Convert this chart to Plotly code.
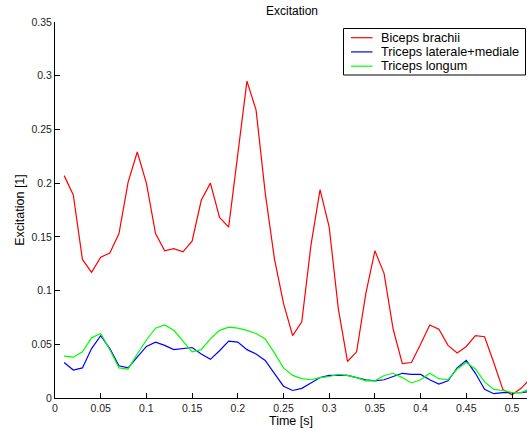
import plotly.graph_objects as go

time_s = [round(0.01 * i, 2) for i in range(1, 53)]

biceps_brachii = [
    0.207, 0.189, 0.129, 0.117, 0.131, 0.135, 0.153, 0.201, 0.229, 0.200,
    0.153, 0.137, 0.139, 0.136, 0.146, 0.184, 0.200, 0.168, 0.159, 0.228,
    0.295, 0.268, 0.191, 0.130, 0.088, 0.058, 0.071, 0.142, 0.194, 0.159,
    0.083, 0.034, 0.043, 0.097, 0.137, 0.116, 0.064, 0.032, 0.033, 0.050,
    0.068, 0.064, 0.049, 0.042, 0.048, 0.058, 0.057, 0.033, 0.008, 0.003,
    0.009, 0.018,
]

triceps_lat_med = [
    0.033, 0.026, 0.028, 0.046, 0.058, 0.046, 0.030, 0.028, 0.038, 0.048,
    0.052, 0.049, 0.045, 0.046, 0.047, 0.041, 0.036, 0.044, 0.053, 0.052,
    0.045, 0.041, 0.035, 0.023, 0.011, 0.007, 0.009, 0.014, 0.019, 0.021,
    0.021, 0.021, 0.019, 0.017, 0.016, 0.017, 0.020, 0.023, 0.022, 0.022,
    0.017, 0.013, 0.016, 0.028, 0.035, 0.023, 0.008, 0.004, 0.005, 0.005,
    0.005, 0.006,
]

triceps_longum = [
    0.039, 0.038, 0.043, 0.056, 0.060, 0.045, 0.028, 0.027, 0.041, 0.054,
    0.065, 0.068, 0.063, 0.053, 0.043, 0.045, 0.055, 0.063, 0.066, 0.065,
    0.063, 0.060, 0.055, 0.042, 0.028, 0.021, 0.018, 0.017, 0.019, 0.020,
    0.022, 0.021, 0.019, 0.016, 0.016, 0.021, 0.023, 0.019, 0.014, 0.017,
    0.023, 0.018, 0.017, 0.027, 0.033, 0.027, 0.015, 0.008, 0.007, 0.005,
    0.005, 0.009,
]

series_names = ["Biceps brachii", "Triceps laterale+mediale", "Triceps longum"]
series_colors = ["#ff0000", "#0000ff", "#00ff00"]

x_tick_vals = [0, 0.05, 0.1, 0.15, 0.2, 0.25, 0.3, 0.35, 0.4, 0.45, 0.5]
x_tick_text = ["0", "0.05", "0.1", "0.15", "0.2", "0.25", "0.3", "0.35", "0.4", "0.45", "0.5"]
y_tick_vals = [0, 0.05, 0.1, 0.15, 0.2, 0.25, 0.3, 0.35]
y_tick_text = ["0", "0.05", "0.1", "0.15", "0.2", "0.25", "0.3", "0.35"]

W, H = 527, 430
L, R, T, B = 55, 0, 22, 32
FONT = "Liberation Sans, Arial, Helvetica, sans-serif"

fig = go.Figure()
for name, ys, col in zip(series_names, [biceps_brachii, triceps_lat_med, triceps_longum], series_colors):
    fig.add_trace(go.Scatter(x=time_s, y=ys, mode="lines", name=name,
                             line=dict(color=col, width=1.2), showlegend=False))

# Manual MATLAB-style legend (pixel positions converted to paper coords)
pw, ph = W - L - R, H - T - B
def px(xp):
    return (xp - L) / pw
def py(yp):
    return (H - B - yp) / ph

shapes = [dict(type="rect", xref="paper", yref="paper",
               x0=px(343.5), x1=px(525.5), y0=py(75), y1=py(28.5),
               line=dict(color="black", width=1), fillcolor="white", layer="above")]
annotations = []
rows = [37.7, 51.9, 66.2]
for name, col, yr in zip(series_names, series_colors, rows):
    shapes.append(dict(type="line", xref="paper", yref="paper",
                       x0=px(351), x1=px(372.5), y0=py(yr), y1=py(yr),
                       line=dict(color=col, width=1.2), layer="above"))
    annotations.append(dict(text=name, xref="paper", yref="paper",
                            x=px(378.5), y=py(yr), xanchor="left", yanchor="middle",
                            showarrow=False, font=dict(family=FONT, size=12.7, color="black")))

fig.update_layout(
    width=W, height=H,
    margin=dict(l=L, r=R, t=T, b=B, pad=0, autoexpand=False),
    paper_bgcolor="white", plot_bgcolor="white",
    font=dict(family=FONT, size=12.5, color="black"),
    title=dict(text="Excitation", x=px(292), xref="paper", xanchor="center",
               y=1 - 11 / H, yanchor="middle", font=dict(size=12, color="black")),
    shapes=shapes, annotations=annotations,
    xaxis=dict(range=[0, (W - L - R) / 914.0], tickvals=x_tick_vals, ticktext=x_tick_text,
               ticks="inside", ticklen=5, tickwidth=1, tickcolor="black",
               showline=True, linecolor="black", linewidth=1, mirror=False,
               showgrid=False, zeroline=False, automargin=False,
               tickfont=dict(size=10.5, color="#222"),
               title=dict(text="Time [s]", font=dict(size=12.5), standoff=2)),
    yaxis=dict(range=[0, 0.35], tickvals=y_tick_vals, ticktext=y_tick_text,
               ticks="inside", ticklen=5, tickwidth=1, tickcolor="black",
               showline=True, linecolor="black", linewidth=1, mirror=False,
               showgrid=False, zeroline=False, automargin=False,
               tickfont=dict(size=10.5, color="#222"),
               title=dict(text="Excitation [1]", font=dict(size=12.5), standoff=4)),
)

fig.write_html("out.html", config={"displayModeBar": False},
               post_script="document.body.style.margin='0';document.body.style.overflow='hidden';")
